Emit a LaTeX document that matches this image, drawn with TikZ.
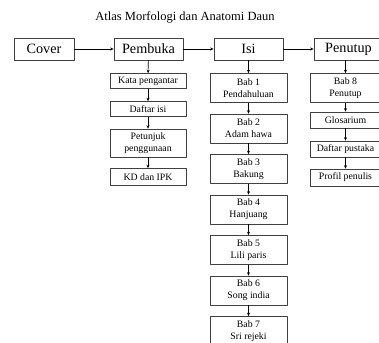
\documentclass[tikz,border=0pt]{standalone}
\usepackage{fontspec}
\setmainfont{Liberation Serif}
\usetikzlibrary{arrows.meta,positioning}
\begin{document}
\begin{tikzpicture}[x=1pt, y=-1pt, line join=round, >={Stealth[length=3.5pt,width=3pt]},
	mainbox/.style={draw=black!75, line width=0.7pt, inner sep=0pt, minimum height=22pt, minimum width=69pt, font=\fontsize{14.2}{15}\selectfont},
	subbox/.style={draw=black!75, line width=0.6pt, inner sep=0pt, align=center, font=\fontsize{9.8}{12}\selectfont},
	link/.style={->, line width=0.6pt}]
	\useasboundingbox (0,0) rectangle (379,342);
	\clip (0,0) rectangle (379,342);
	\node (judul) at (185,17) {\fontsize{12.5}{14}\selectfont Atlas Morfologi dan Anatomi Daun};
	% baris utama
	\node[mainbox, minimum width=60pt] (cover) at (44,49) {Cover};
	\node[mainbox] (pembuka) at (148.5,49) {Pembuka};
	\node[mainbox] (isi)     at (248.5,49) {Isi};
	\node[mainbox] (penutup) at (348.5,49) {Penutup};
	% kolom pembuka
	\node[subbox, minimum width=76pt, minimum height=15pt] (kata)     at (148,81)  {Kata pengantar};
	\node[subbox, minimum width=76pt, minimum height=15pt] (daftar)   at (148,109) {Daftar isi};
	\node[subbox, minimum width=76pt, minimum height=28pt] (petunjuk) at (148,143) {Petunjuk\\penggunaan};
	\node[subbox, minimum width=76pt, minimum height=17pt] (kdipk)    at (148,177) {KD dan IPK};
	% kolom isi
	\foreach \i/\nama [evaluate=\i as \yy using 88+40.5*(\i-1)] in
		{1/Pendahuluan, 2/Adam hawa, 3/Bakung, 4/Hanjuang, 5/Lili paris, 6/Song india, 7/Sri rejeki}
		\node[subbox, minimum width=77pt, minimum height=29pt] (bab\i) at (248.5,\yy) {Bab \i\\\nama};
	% kolom penutup
	\node[subbox, minimum width=71pt, minimum height=29pt] (bab8)      at (345.5,88)    {Bab 8\\Penutup};
	\node[subbox, minimum width=71pt, minimum height=16pt] (glosarium) at (345.5,120)   {Glosarium};
	\node[subbox, minimum width=71pt, minimum height=16pt] (pustaka)   at (345.5,149)   {Daftar pustaka};
	\node[subbox, minimum width=71pt, minimum height=17pt] (profil)    at (345.5,177.5) {Profil penulis};
	% panah
	\draw[link] (cover) -- (pembuka);
	\draw[link] (pembuka) -- (isi);
	\draw[link] (isi) -- (penutup);
	\draw[link] (pembuka) -- (kata);
	\draw[link] (kata) -- (daftar);
	\draw[link] (daftar) -- (petunjuk);
	\draw[link] (petunjuk) -- (kdipk);
	\draw[link] (isi) -- (bab1);
	\foreach \i [evaluate=\i as \j using int(\i+1)] in {1,...,6}
		\draw[link] (bab\i) -- (bab\j);
	\draw[link] (penutup.south -| bab8) -- (bab8);
	\draw[link] (bab8) -- (glosarium);
	\draw[link] (glosarium) -- (pustaka);
	\draw[link] (pustaka) -- (profil);
\end{tikzpicture}
\end{document}
